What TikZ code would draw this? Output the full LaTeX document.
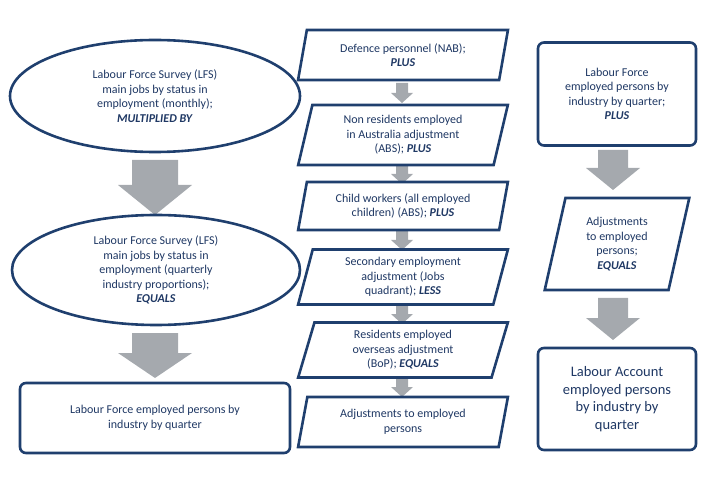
\documentclass[tikz,border=0pt]{standalone}
\usepackage{fontspec}
\setmainfont{Carlito}
\usetikzlibrary{shapes.geometric}
\definecolor{navy}{HTML}{1F3F6E}
\definecolor{txt}{HTML}{1F3864}
\definecolor{arr}{HTML}{A5A9AE}
\begin{document}
\begin{tikzpicture}[x=1pt,y=-1pt,
 box/.style={draw=navy,line width=2.6pt,text=txt,font=\fontsize{12}{14.5}\selectfont,align=center,fill=white},
 ell/.style={box,ellipse,inner sep=0pt},
 rbox/.style={box,rounded corners=6pt,inner sep=2pt},
 para/.style={box,trapezium,trapezium left angle=77,trapezium right angle=103,trapezium stretches=true,inner sep=1pt},
 pics/barr/.style n args={4}{code={\fill[arr] (-#1,0) -- (#1,0) -- (#1,#3-#4) -- (#2,#3-#4) -- (0,#3) -- (-#2,#3-#4) -- (-#1,#3-#4) -- cycle;}},
]
\useasboundingbox (0,0) rectangle (720,478);
% left column
\node[ell,minimum width=290,minimum height=112] (l1) at (155,96) {Labour Force Survey (LFS)\\main jobs by status in\\employment (monthly);\\\textbf{\textit{MULTIPLIED BY}}};
\pic at (155,160) {barr={23}{37}{55}{30}};
\node[ell,minimum width=288,minimum height=110] (l2) at (156,270) {Labour Force Survey (LFS)\\main jobs by status in\\employment (quarterly\\industry proportions);\\\textbf{\textit{EQUALS}}};
\pic at (155,333) {barr={23}{37}{45}{25}};
\node[rbox,minimum width=270,minimum height=70] (l3) at (155,418) {Labour Force employed persons by\\industry by quarter};
% middle column
\pic at (402,83) {barr={6}{11}{20}{10}};
\pic at (402,164) {barr={6}{11}{20}{10}};
\pic at (402,230) {barr={6}{11}{20}{10}};
\pic at (402,304) {barr={6}{11}{20}{10}};
\pic at (402,377) {barr={6}{11}{20}{10}};
\node[para,minimum width=210,minimum height=50] (m1) at (403,55) {Defence personnel (NAB);\\\textbf{\textit{PLUS}}};
\node[para,minimum width=210,minimum height=60] (m2) at (403,135) {Non residents employed\\in Australia adjustment\\(ABS); \textbf{\textit{PLUS}}};
\node[para,minimum width=210,minimum height=48] (m3) at (403,206) {Child workers (all employed\\children) (ABS); \textbf{\textit{PLUS}}};
\node[para,minimum width=210,minimum height=55] (m4) at (403,277) {Secondary employment\\adjustment (Jobs\\quadrant); \textbf{\textit{LESS}}};
\node[para,minimum width=210,minimum height=55] (m5) at (403,350) {Residents employed\\overseas adjustment\\(BoP); \textbf{\textit{EQUALS}}};
\node[para,minimum width=210,minimum height=50] (m6) at (403,422) {Adjustments to employed\\persons};
% right column
\node[rbox,minimum width=158,minimum height=103] (r1) at (617,94) {Labour Force\\employed persons by\\industry by quarter;\\\textbf{\textit{PLUS}}};
\pic at (613,150) {barr={15}{27}{40}{22}};
\node[para,minimum width=145,minimum height=92] (r2) at (617,244) {Adjustments\\to employed\\persons;\\\textbf{\textit{EQUALS}}};
\pic at (613,298) {barr={15}{27}{42}{22}};
\node[rbox,minimum width=158,minimum height=102,font=\fontsize{14.5}{17.5}\selectfont] (r3) at (617,399) {Labour Account\\employed persons\\by industry by\\quarter};
\end{tikzpicture}
\end{document}
